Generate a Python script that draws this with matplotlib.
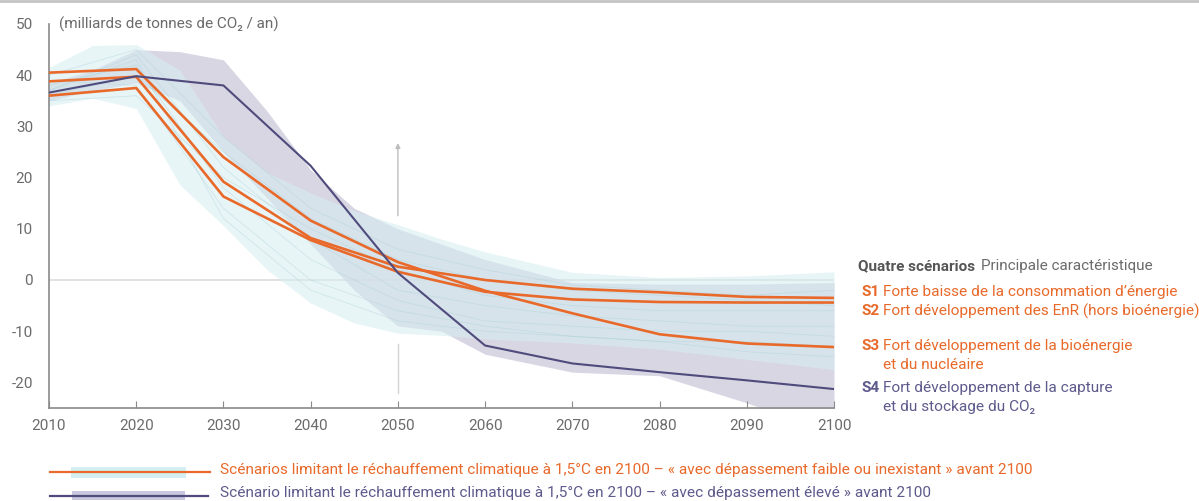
import matplotlib
matplotlib.use('Agg')
import matplotlib.pyplot as plt
import numpy as np

plt.rcParams['font.family'] = ['Roboto', 'DejaVu Sans']
plt.rcParams['axes.unicode_minus'] = False

# --- data ---
years = [2010, 2020, 2030, 2040, 2050, 2060, 2070, 2080, 2090, 2100]
s3 = [40.5, 41.2, 24.0, 11.6, 3.5, -2.1, -6.5, -10.6, -12.4, -13.1]
s1 = [38.8, 39.7, 19.2, 8.2, 2.6, 0.0, -1.7, -2.4, -3.3, -3.5]
s2 = [36.0, 37.5, 16.3, 7.8, 1.6, -2.3, -3.8, -4.3, -4.4, -4.4]
s4 = [36.6, 39.8, 38.0, 22.3, 1.4, -12.8, -16.3, -18.0, -19.6, -21.3]

band_years = [2010, 2015, 2020, 2025, 2030, 2035, 2040, 2045, 2050, 2055, 2060, 2070, 2080, 2090, 2100]
low_up = [41.5, 45.8, 46.0, 41.0, 28.0, 21.0, 17.0, 13.5, 10.8, 8.0, 5.5, 1.5, 0.5, 0.8, 1.6]
low_lo = [34.0, 35.5, 33.5, 18.6, 10.6, 2.0, -4.5, -8.4, -10.4, -10.8, -11.5, -12.3, -13.5, -15.5, -17.5]
high_up = [38.5, 41.0, 45.0, 44.6, 43.0, 33.0, 21.5, 14.0, 10.0, 7.0, 4.0, -0.5, -0.8, -0.8, -0.5]
high_lo = [35.0, 37.0, 38.5, 35.0, 25.0, 16.0, 7.0, -2.0, -9.0, -10.0, -14.5, -18.0, -18.7, -24.0, -30.0]

# a few individual scenario traces inside the light band
thin = [
    [37, 44, 22, 8, -2, -5, -7, -8, -9, -9],
    [38, 42, 18, 4, -4, -8, -9, -10, -10, -11],
    [36, 40, 25, 12, 4, 0, -2, -3, -4, -5],
    [39, 38, 14, 0, -6, -9, -11, -12, -12, -13],
    [35, 36, 20, 10, 2, -3, -5, -6, -6, -6],
    [40, 45, 28, 14, 6, 2, -1, -2, -3, -2],
    [37, 43, 12, -2, -8, -10, -11, -12, -14, -15],
]

orange = '#e8692a'
purple = '#4f4b7c'
purple_txt = '#5d5a8c'
grey = '#6b6b6b'

fig = plt.figure(figsize=(11.99, 5.01), dpi=100)
ax = fig.add_axes([49/1199, 1-408/501, (834-49)/1199, 384/501])

ax.fill_between(band_years, high_lo, high_up, color='#cdc9dc', alpha=0.75, lw=0, zorder=1)
ax.fill_between(band_years, low_lo, low_up, color='#d6eef1', alpha=0.55, lw=0, zorder=2)
for t in thin:
    ax.plot(years, t, color='#a7d0d6', lw=0.6, alpha=0.4, zorder=2.5)

ax.axhline(0, color='#dcdcdc', lw=1.2, zorder=0.5)
# vertical marker at 2050
ax.plot([2050, 2050], [-22, -12.5], color='#d4d4d4', lw=1, zorder=0.6)
ax.annotate('', xy=(2050, 27.3), xytext=(2050, 12),
            arrowprops=dict(arrowstyle='-|>', color='#bdbdbd', lw=1, mutation_scale=7), zorder=0.6)

for s in (s3, s1, s2):
    ax.plot(years, s, color=orange, lw=1.9, zorder=4)
ax.plot(years, s4, color=purple, lw=1.5, zorder=4)

ax.set_xlim(2010, 2100)
ax.set_ylim(-25, 50)
ax.set_xticks(years)
ax.set_yticks([-20, -10, 0, 10, 20, 30, 40, 50])
for sp in ('top', 'right'):
    ax.spines[sp].set_visible(False)
ax.spines['left'].set_color('#8a8a8a')
ax.spines['bottom'].set_color('#8a8a8a')
ax.spines['left'].set_linewidth(1.2)
ax.spines['bottom'].set_linewidth(1.2)
ax.tick_params(axis='x', direction='in', length=5, color='#8a8a8a', labelsize=11, labelcolor=grey, pad=8)
ax.tick_params(axis='y', length=0, labelsize=11, labelcolor=grey, pad=11.5)
ax.text(2011.2, 50, '(milliards de tonnes de CO₂ / an)', fontsize=11, color=grey, va='center')

# overlay in pixel coordinates for legends
ov = fig.add_axes([0, 0, 1, 1])
ov.set_xlim(0, 1199)
ov.set_ylim(501, 0)
ov.axis('off')
ov.plot([0, 1199], [1, 1], color='#c4c4c4', lw=2)

fs = 11.1
ov.text(858, 266, 'Quatre scénarios', fontsize=11, color='#555555', fontweight='bold', va='center')
ov.text(981, 266, 'Principale caractéristique', fontsize=11, color=grey, va='center')
rows = [
    (292, 'S1', 'Forte baisse de la consommation d’énergie', orange),
    (311, 'S2', 'Fort développement des EnR (hors bioénergie)', orange),
    (346, 'S3', 'Fort développement de la bioénergie', orange),
    (365, '', 'et du nucléaire', orange),
    (388, 'S4', 'Fort développement de la capture', purple_txt),
    (407, '', 'et du stockage du CO₂', purple_txt),
]
for y, tag, txt, c in rows:
    if tag:
        ov.text(861, y, tag, fontsize=fs, color=c, fontweight='bold', va='center')
    ov.text(883, y, txt, fontsize=fs, color=c, va='center')

ov.add_patch(plt.Rectangle((71, 467), 115, 11, color='#d4eff1', lw=0))
ov.plot([50, 210], [472, 472], color=orange, lw=1.6)
ov.add_patch(plt.Rectangle((72, 491), 113, 9, color='#c9c6e0', lw=0))
ov.plot([50, 208], [496, 496], color=purple, lw=1.6)
ov.text(220, 470, 'Scénarios limitant le réchauffement climatique à 1,5°C en 2100 – « avec dépassement faible ou inexistant » avant 2100',
        fontsize=fs, color=orange, va='center')
ov.text(220, 493, 'Scénario limitant le réchauffement climatique à 1,5°C en 2100 – « avec dépassement élevé » avant 2100',
        fontsize=fs, color=purple_txt, va='center')

fig.savefig('out.png', dpi=100)
